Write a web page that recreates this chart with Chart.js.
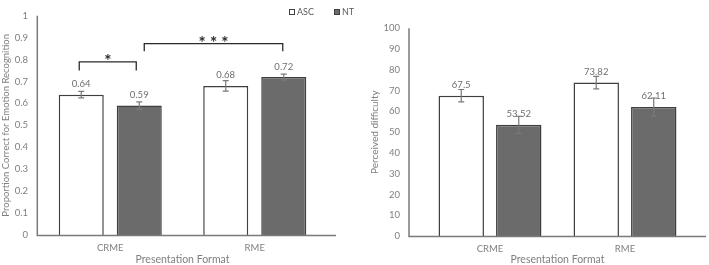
<!DOCTYPE html>
<html>
<head>
<meta charset="utf-8">
<script src="https://cdn.jsdelivr.net/npm/chart.js@4.4.1/dist/chart.umd.min.js"></script>
<style>
  html, body { margin: 0; padding: 0; background: #fff; }
  #wrap { position: relative; width: 709px; height: 265px; }
  canvas { position: absolute; top: 0; }
</style>
</head>
<body>
<div id="wrap">
  <canvas id="leftChart" width="360" height="265" style="left:0"></canvas>
  <canvas id="rightChart" width="349" height="265" style="left:360px"></canvas>
</div>
<script>
// data block
const categories = ['CRME', 'RME'];
const groups = ['ASC', 'NT'];

// left panel: proportion correct
const accuracyASC = [0.64, 0.68];
const accuracyNT = [0.59, 0.72];
const accuracyErrASC = [0.015, 0.024];
const accuracyErrNT = [0.017, 0.014];

// right panel: perceived difficulty
const difficultyASC = [67.5, 73.82];
const difficultyNT = [53.52, 62.11];
const difficultyErrASC = [3, 3];
const difficultyErrNT = [4.1, 4.3];

// significance brackets (left panel): [datasetIndex, categoryIndex]
const sigBrackets = [
    { from: [0, 0], to: [1, 0], y: 0.789, leg: 0.75, text: '*', dx: [-2, -3] },
    { from: [1, 0], to: [1, 1], y: 0.873, leg: 0.838, text: '* * *', dx: [5, -1] }
];

const FONT = 'Lato, "Open Sans", sans-serif';
const GREY_TEXT = '#7f7f7f';
const AXIS_COLOR = '#7a7a7a';

// error bars + value labels above the bars
const errorBars = {
    id: 'errorBars',
    afterDatasetsDraw(chart, args, opts) {
        const {ctx, scales: {y}} = chart;
        ctx.save();
        chart.data.datasets.forEach((ds, di) => {
            const meta = chart.getDatasetMeta(di);
            meta.data.forEach((bar, i) => {
                const v = ds.data[i];
                const e = ds.errors[i];
                const yTop = y.getPixelForValue(v + e);
                const yBot = y.getPixelForValue(v - e);
                ctx.strokeStyle = '#7a7a7a';
                ctx.lineWidth = 1.2;
                ctx.beginPath();
                ctx.moveTo(bar.x, yTop); ctx.lineTo(bar.x, yBot);
                ctx.moveTo(bar.x - 3, yTop); ctx.lineTo(bar.x + 3, yTop);
                ctx.moveTo(bar.x - 3, yBot); ctx.lineTo(bar.x + 3, yBot);
                ctx.stroke();
                ctx.fillStyle = '#6f6f6f';
                ctx.font = opts.labelSize + 'px ' + FONT;
                ctx.textAlign = 'center';
                ctx.textBaseline = 'middle';
                ctx.fillText(String(v), bar.x, bar.y - 10.5);
            });
        });
        ctx.restore();
    }
};

// axis lines drawn a bit outside the category area, like the original
const axisLines = {
    id: 'axisLines',
    afterDraw(chart, args, opts) {
        const {ctx, chartArea: {top, bottom, left, right}} = chart;
        const x0 = left - opts.yOffset;
        ctx.save();
        ctx.strokeStyle = AXIS_COLOR;
        ctx.lineWidth = 1.5;
        ctx.beginPath();
        ctx.moveTo(x0, top);
        ctx.lineTo(x0, bottom + 0.5);
        ctx.lineTo(right + opts.xExtend, bottom + 0.5);
        ctx.stroke();
        ctx.restore();
    }
};

// significance brackets
const brackets = {
    id: 'brackets',
    afterDraw(chart, args, opts) {
        if (!opts.items) return;
        const {ctx, scales: {y}} = chart;
        ctx.save();
        ctx.strokeStyle = '#2b2b2b';
        ctx.fillStyle = '#2b2b2b';
        ctx.lineWidth = 1.3;
        opts.items.forEach(b => {
            const xa = chart.getDatasetMeta(b.from[0]).data[b.from[1]].x + b.dx[0];
            const xb = chart.getDatasetMeta(b.to[0]).data[b.to[1]].x + b.dx[1];
            const yl = y.getPixelForValue(b.y);
            const yg = y.getPixelForValue(b.leg);
            ctx.beginPath();
            ctx.moveTo(xa, yg); ctx.lineTo(xa, yl); ctx.lineTo(xb, yl); ctx.lineTo(xb, yg);
            ctx.stroke();
            ctx.font = 'bold 17px ' + FONT;
            ctx.textAlign = 'center';
            ctx.textBaseline = 'alphabetic';
            ctx.fillText(b.text, (xa + xb) / 2, yl + 5.5);
        });
        ctx.restore();
    }
};

// small legend at top right of the left panel
const miniLegend = {
    id: 'miniLegend',
    afterDraw(chart, args, opts) {
        if (!opts.display) return;
        const {ctx, chartArea: {right}} = chart;
        const xs = [right - 38, right + 7];
        ctx.save();
        ctx.font = '9px ' + FONT;
        ctx.textBaseline = 'middle';
        ctx.textAlign = 'left';
        chart.data.datasets.forEach((ds, i) => {
            ctx.fillStyle = ds.backgroundColor;
            ctx.strokeStyle = '#404040';
            ctx.lineWidth = 1;
            ctx.fillRect(xs[i], 9, 6, 6);
            ctx.strokeRect(xs[i] + 0.5, 9.5, 5, 5);
            ctx.fillStyle = '#595959';
            ctx.fillText(ds.label, xs[i] + 8, 12);
        });
        ctx.restore();
    }
};

function makeConfig(asc, nt, errA, errN, yOpts, layout) {
    return {
        type: 'bar',
        data: {
            labels: categories,
            datasets: [
                { label: groups[0], data: asc, errors: errA, backgroundColor: '#ffffff',
                  borderColor: '#3f3f3f', borderWidth: 1.5 },
                { label: groups[1], data: nt, errors: errN, backgroundColor: '#6b6b6b',
                  borderColor: '#3f3f3f', borderWidth: 1.5 }
            ]
        },
        options: {
            responsive: false,
            animation: false,
            events: [],
            layout: { padding: { top: layout.top, right: layout.right, left: 0, bottom: 0 } },
            datasets: { bar: { categoryPercentage: layout.catPct, barPercentage: layout.barPct } },
            scales: {
                x: {
                    grid: { display: false, drawTicks: false },
                    border: { display: false },
                    ticks: { color: GREY_TEXT, padding: 7, font: { family: FONT, size: 9.5 } },
                    title: { display: true, text: 'Presentation Format', color: GREY_TEXT,
                             padding: { top: 0, bottom: 0 }, font: { family: FONT, size: 10.5, lineHeight: 1 } },
                    afterFit(scale) { scale.height = layout.xHeight; }
                },
                y: {
                    min: 0,
                    max: yOpts.max,
                    grid: { display: false, drawTicks: false },
                    border: { display: false },
                    ticks: { stepSize: yOpts.step, color: GREY_TEXT, padding: yOpts.tickPad,
                             font: { family: FONT, size: 9.5 },
                             callback: v => String(Math.round(v * 10) / 10) },
                    title: { display: true, text: yOpts.title, color: GREY_TEXT,
                             padding: { top: yOpts.titlePad, bottom: 0 },
                             font: { family: FONT, size: yOpts.titleSize, lineHeight: 1.2 } },
                    afterFit(scale) { scale.width = layout.yWidth; }
                }
            },
            plugins: {
                legend: { display: false },
                tooltip: { enabled: false },
                errorBars: { labelSize: 9.5 },
                axisLines: { yOffset: layout.yOffset, xExtend: layout.xExtend },
                brackets: { items: layout.brackets },
                miniLegend: { display: layout.legend }
            }
        },
        plugins: [errorBars, axisLines, brackets, miniLegend]
    };
}

// init render block
const leftChart = new Chart(
    document.getElementById('leftChart'),
    makeConfig(accuracyASC, accuracyNT, accuracyErrASC, accuracyErrNT,
        { max: 1, step: 0.1, tickPad: 10, title: 'Proportion Correct for Emotion Recognition',
          titlePad: 0, titleSize: 9.5 },
        { top: 7, right: 33, yWidth: 38, xHeight: 30, catPct: 0.803, barPct: 0.776,
          yOffset: 0.7, xExtend: 9, brackets: sigBrackets, legend: true })
);

const rightChart = new Chart(
    document.getElementById('rightChart'),
    makeConfig(difficultyASC, difficultyNT, difficultyErrASC, difficultyErrNT,
        { max: 100, step: 10, tickPad: 22.5, title: 'Perceived difficulty',
          titlePad: 8.4, titleSize: 10 },
        { top: 6, right: 16.5, yWidth: 62.5, xHeight: 29, catPct: 0.852, barPct: 0.79,
          yOffset: 13.5, xExtend: 13.5, brackets: null, legend: false })
);
</script>
</body>
</html>
